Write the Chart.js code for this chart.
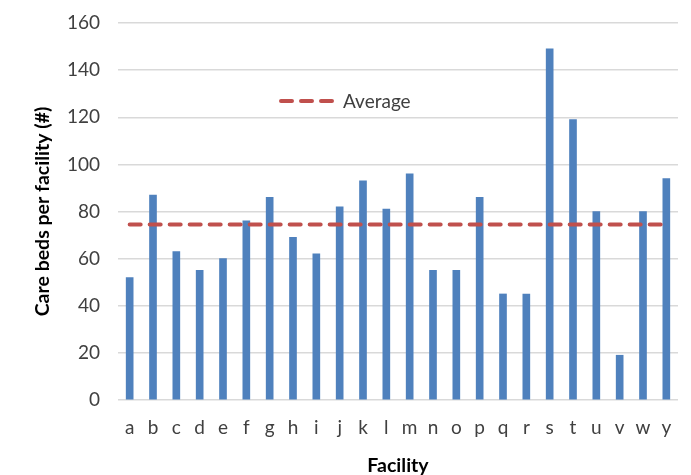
<!DOCTYPE html>
<html>
<head>
<meta charset="utf-8">
<script src="https://cdn.jsdelivr.net/npm/chart.js@4"></script>
<style>
  html, body { margin: 0; padding: 0; background: #fff; }
  .wrap { position: relative; width: 691px; height: 475px; }
  .legend {
    position: absolute;
    left: 279px;
    top: 89px;
    display: flex;
    align-items: center;
    font-family: Lato, sans-serif;
    font-size: 19px;
    color: #404040;
  }
  .legend svg { margin-right: 6px; }
</style>
</head>
<body>
<div class="wrap">
  <canvas id="chart" width="691" height="475"></canvas>
  <div class="legend">
    <svg width="58" height="8"><line x1="2" y1="4" x2="56" y2="4" stroke="#C0504D" stroke-width="4" stroke-linecap="round" stroke-dasharray="11 9"/></svg>
    <span>Average</span>
  </div>
</div>
<script>
const facilities = ["a","b","c","d","e","f","g","h","i","j","k","l","m","n","o","p","q","r","s","t","u","v","w","y"];
const careBeds = [52, 87, 63, 55, 60, 76, 86, 69, 62, 82, 93, 81, 96, 55, 55, 86, 45, 45, 149, 119, 80, 19, 80, 94];
const averageBeds = 74.5;
const yTicks = [0, 20, 40, 60, 80, 100, 120, 140, 160];

const tickFont = { family: "Lato", size: 19 };
const titleFont = { family: "Lato", size: 19.5, weight: "bold" };

new Chart(document.getElementById("chart").getContext("2d"), {
  type: "bar",
  data: {
    labels: facilities,
    datasets: [
      {
        type: "bar",
        label: "Care beds",
        data: careBeds,
        backgroundColor: "#4F81BD",
        barThickness: 7,
        order: 1,
      },
      {
        type: "line",
        label: "Average",
        data: facilities.map(() => averageBeds),
        borderColor: "#C0504D",
        borderWidth: 4,
        borderDash: [11, 9],
        borderCapStyle: "round",
        pointRadius: 0,
        fill: false,
        order: 0,
      },
    ],
  },
  options: {
    responsive: false,
    animation: false,
    layout: { padding: { top: 23, right: 13, left: 27, bottom: 0 } },
    plugins: {
      legend: { display: false },
      tooltip: { enabled: false },
    },
    scales: {
      x: {
        grid: { display: false },
        border: { display: false },
        ticks: { color: "#404040", font: tickFont, padding: 8, maxRotation: 0, autoSkip: false },
        title: { display: true, text: "Facility", color: "#000", font: titleFont, padding: { top: 14, bottom: -2 } },
        afterFit: (s) => { s.height = 75; },
      },
      y: {
        min: 0,
        max: 160,
        afterBuildTicks: (s) => { s.ticks = yTicks.map((v) => ({ value: v })); },
        grid: { color: "#D9D9D9", lineWidth: 1.5, drawTicks: false },
        border: { display: false },
        ticks: { color: "#404040", font: tickFont, padding: 18 },
        title: { display: true, text: "Care beds per facility (#)", color: "#000", font: titleFont, padding: { top: 4, bottom: 14 } },
        afterFit: (s) => { s.width = 91; s.paddingTop = 0; s.paddingBottom = 0; },
      },
    },
  },
});
</script>
</body>
</html>
